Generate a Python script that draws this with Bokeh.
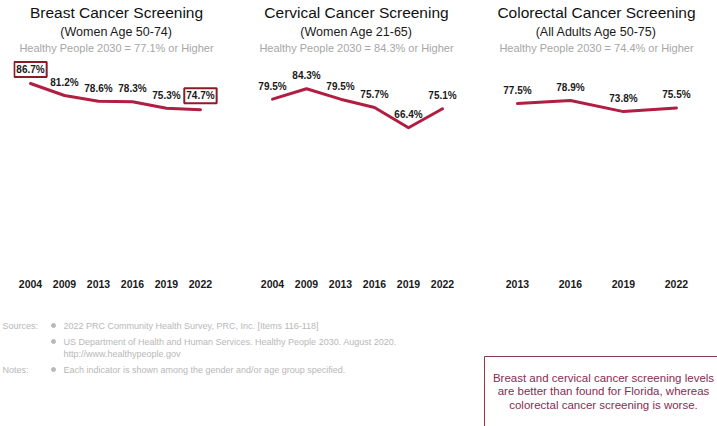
from bokeh.plotting import figure
from bokeh.models import Title, Range1d, ColumnDataSource, FixedTicker
from bokeh.layouts import column, row
from bokeh.embed import file_html
from bokeh.resources import INLINE
from bokeh.core.properties import value

# ---------------- data ----------------
breast_years = ["2004", "2009", "2013", "2016", "2019", "2022"]
breast_values = [86.7, 81.2, 78.6, 78.3, 75.3, 74.7]
breast_boxed = [True, False, False, False, False, True]

cervical_years = ["2004", "2009", "2013", "2016", "2019", "2022"]
cervical_values = [79.5, 84.3, 79.5, 75.7, 66.4, 75.1]

colorectal_years = ["2013", "2016", "2019", "2022"]
colorectal_values = [77.5, 78.9, 73.8, 75.5]

titles = ["Breast Cancer Screening", "Cervical Cancer Screening", "Colorectal Cancer Screening"]
subtitles = ["(Women Age 50-74)", "(Women Age 21-65)", "(All Adults Age 50-75)"]
targets = ["Healthy People 2030 = 77.1% or Higher",
           "Healthy People 2030 = 84.3% or Higher",
           "Healthy People 2030 = 74.4% or Higher"]

sources_lines = ["2022 PRC Community  Health Survey, PRC, Inc. [Items  116-118]",
                 "US Department  of Health and Human Services. Healthy People 2030. August 2020.",
                 "http://www.healthypeople.gov"]
notes_lines = ["Each indicator  is shown among the gender and/or age group specified."]
callout_lines = ["Breast and cervical cancer screening levels",
                 "are better than found for Florida, whereas",
                 "colorectal cancer screening is worse."]

LINE = "#b01e42"
BOX = "#8e1b27"
SANS = "Liberation Sans"


def make_chart(years, vals, title, sub, target, width, left, right, xstart, xend, boxed=None):
    p = figure(width=width, height=300, output_backend="svg", toolbar_location=None,
               title=None, x_range=Range1d(xstart, xend), y_range=Range1d(0, 100),
               y_axis_location=None, min_border_left=left, min_border_right=right,
               min_border_top=54, min_border_bottom=28)
    p.outline_line_color = None
    p.xgrid.grid_line_color = None
    p.ygrid.grid_line_color = None
    p.background_fill_color = "white"
    p.border_fill_color = "white"

    idx = list(range(len(years)))
    src = ColumnDataSource(dict(x=idx, y=vals))
    p.line("x", "y", source=src, line_color=LINE, line_width=3, line_join="round", line_cap="round")

    if boxed is None:
        boxed = [False] * len(vals)
    plain = ColumnDataSource(dict(x=[i for i in idx if not boxed[i]],
                                  y=[vals[i] for i in idx if not boxed[i]],
                                  lab=[f"{vals[i]:.1f}%" for i in idx if not boxed[i]]))
    boxes = ColumnDataSource(dict(x=[i for i in idx if boxed[i]],
                                  y=[vals[i] for i in idx if boxed[i]],
                                  lab=[f"{vals[i]:.1f}%" for i in idx if boxed[i]]))
    p.text("x", "y", text="lab", source=plain, text_align="center", text_baseline="middle",
           y_offset=-13, text_font=value(SANS), text_font_style="bold",
           text_font_size="10px", text_color="#1a1a1a")
    if any(boxed):
        p.text("x", "y", text="lab", source=boxes, text_align="center", text_baseline="middle",
               y_offset=-14, text_font=value(SANS), text_font_style="bold",
               text_font_size="10px", text_color="#1a1a1a",
               border_line_color=BOX, border_line_width=2, padding=[2, 2, 2, 2],
               background_fill_color="white")

    ax = p.xaxis[0]
    ax.ticker = FixedTicker(ticks=idx)
    ax.major_label_overrides = {i: y for i, y in zip(idx, years)}
    ax.axis_line_color = None
    ax.major_tick_line_color = None
    ax.minor_tick_line_color = None
    ax.major_tick_in = 0
    ax.major_tick_out = 0
    ax.major_label_standoff = 7
    ax.major_label_text_font = SANS
    ax.major_label_text_font_style = "bold"
    ax.major_label_text_font_size = "10.5px"
    ax.major_label_text_color = "#1a1a1a"

    p.add_layout(Title(text=target, align="center", text_font=SANS, text_font_style="normal",
                       text_font_size="11px", text_color="#a6a6a6", standoff=2), "above")
    p.add_layout(Title(text=sub, align="center", text_font=SANS, text_font_style="normal",
                       text_font_size="12.5px", text_color="#1a1a1a", standoff=0), "above")
    p.add_layout(Title(text=title, align="center", text_font=SANS, text_font_style="normal",
                       text_font_size="15.5px", text_color="#111111", standoff=3), "above")
    return p


p1 = make_chart(breast_years, breast_values, titles[0], subtitles[0], targets[0],
                240, 13, 21, -0.5, 5.56, boxed=breast_boxed)
p2 = make_chart(cervical_years, cervical_values, titles[1], subtitles[1], targets[1],
                238, 13, 19, -0.56, 5.5)
p3 = make_chart(colorectal_years, colorectal_values, titles[2], subtitles[2], targets[2],
                239, 19, 22, -0.377, 3.36)

# ---------------- footer ----------------
f = figure(width=717, height=126, output_backend="svg", toolbar_location=None,
           x_range=Range1d(0, 717), y_range=Range1d(426, 300),
           x_axis_location=None, y_axis_location=None,
           min_border_left=0, min_border_right=0, min_border_top=0, min_border_bottom=0)
f.outline_line_color = None
f.xgrid.grid_line_color = None
f.ygrid.grid_line_color = None

GRAY = "#b8b8b8"
src_y = [325, 341, 353]
f.text(x=[2], y=[325], text=["Sources:"], text_font=value(SANS), text_font_size="9px",
       text_color=GRAY, text_baseline="middle")
f.text(x=[2], y=[369], text=["Notes:"], text_font=value(SANS), text_font_size="9px",
       text_color=GRAY, text_baseline="middle")
f.text(x=[63] * 3, y=src_y, text=sources_lines, text_font=value(SANS), text_font_size="9px",
       text_color=GRAY, text_baseline="middle")
f.text(x=[63], y=[369], text=notes_lines, text_font=value(SANS), text_font_size="9px",
       text_color=GRAY, text_baseline="middle")
f.scatter(x=[53, 53, 53], y=[325, 341, 369], size=4, color=GRAY)

f.quad(left=[484], right=[760], top=[356], bottom=[470], fill_color="white",
       line_color="#8b3a45", line_width=1)
f.text(x=[603] * 3, y=[377, 390.5, 404], text=callout_lines, text_font=value(SANS),
       text_font_size="11.5px", text_color="#8b2a52", text_align="center", text_baseline="middle")

layout = column(row(p1, p2, p3, spacing=0), f, spacing=0)
open("out.html", "w").write(file_html(layout, INLINE))
